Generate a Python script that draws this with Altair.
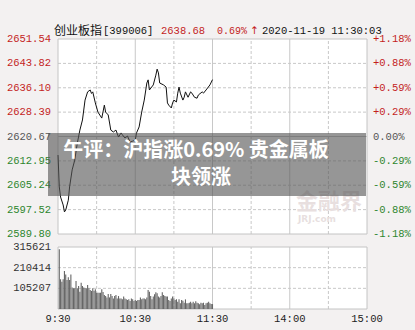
import altair as alt
import pandas as pd

# ---------------- data ----------------
price_minutes = [0, 1, 2, 4, 5, 6, 8, 9, 11, 13, 15, 17, 19, 21, 23, 25, 26, 27, 29, 31,
                 34, 36, 37, 39, 41, 43, 45, 47, 49, 50, 52, 54, 56, 58, 60, 61, 63, 65, 67, 69,
                 70, 71, 74, 76, 77, 78, 79, 82, 84, 85, 86, 88, 89, 90, 92, 93, 94, 95, 97, 98,
                 99, 101, 103, 104, 106, 108, 109, 112, 113, 115, 118, 120]
price_values = [2614.8, 2604.7, 2601.5, 2599.0, 2596.8, 2597.4, 2600.5, 2604.7, 2610.1, 2613.2,
                2618.6, 2622.7, 2625.9, 2632.2, 2634.8, 2635.4, 2634.3, 2634.8, 2631.3, 2628.4,
                2626.5, 2630.6, 2628.4, 2627.5, 2622.7, 2622.1, 2622.7, 2620.5, 2621.8, 2621.2,
                2620.2, 2620.8, 2618.9, 2619.2, 2619.6, 2621.8, 2623.7, 2628.4, 2632.2, 2637.6,
                2638.6, 2635.4, 2637.0, 2640.1, 2642.0, 2640.8, 2637.6, 2637.0, 2636.3, 2631.3,
                2630.6, 2629.7, 2631.3, 2632.2, 2631.6, 2634.4, 2636.3, 2634.4, 2632.2, 2633.1,
                2634.8, 2633.1, 2634.8, 2634.4, 2633.1, 2632.8, 2633.8, 2634.8, 2634.4, 2635.4,
                2637.0, 2638.68]

volumes = [303800, 151000, 139000, 151000, 193000, 176000, 148000, 161000, 148000, 176000,
           110000, 105000, 105000, 143000, 105000, 117000, 88000, 134000, 117000, 109000,
           105000, 105000, 122000, 105000, 97000, 92000, 105000, 93000, 100000, 83000,
           83000, 83000, 83000, 100000, 87000, 71000, 66000, 59000, 76000, 59000,
           76000, 66000, 54000, 66000, 71000, 54000, 66000, 54000, 54000, 49000,
           63000, 54000, 49000, 46000, 49000, 41000, 54000, 49000, 41000, 46000,
           41000, 46000, 46000, 59000, 49000, 54000, 54000, 49000, 58000, 97000,
           88000, 66000, 49000, 63000, 75000, 85000, 80000, 63000, 59000, 66000,
           85000, 71000, 66000, 63000, 63000, 46000, 41000, 54000, 63000, 54000,
           46000, 49000, 37000, 49000, 29000, 46000, 42000, 32000, 49000, 29000,
           29000, 32000, 37000, 29000, 37000, 29000, 39000, 32000, 29000, 24000,
           32000, 29000, 32000, 20000, 29000, 32000, 37000, 29000, 25000, 25000]
vol_minutes = list(range(1, len(volumes) + 1))

price_levels = [2651.54, 2643.82, 2636.10, 2628.39, 2620.67, 2612.95, 2605.24, 2597.52, 2589.80]
price_labels = ["2651.54", "2643.82", "2636.10", "2628.39", "2620.67", "2612.95", "2605.24", "2597.52", "2589.80"]
pct_labels = ["+1.18%", "+0.88%", "+0.59%", "+0.29%", "0.00%", "-0.29%", "-0.59%", "-0.88%", "-1.18%"]
level_colors = ["#c41e1e"] * 4 + ["#555555"] + ["#2e862e"] * 4

vol_levels = [315621, 210414, 105207]
vol_labels = ["315621", "210414", "105207"]

time_ticks = [0, 60, 120, 180, 240]
time_labels = ["9:30", "10:30", "11:30", "14:00", "15:00"]

grid_dashed_min = [30, 90, 150, 210]
grid_solid_min = [60, 120, 180]

P_MIN, P_MAX = 2589.80, 2651.54
V_MAX = 315621

# ---------------- scales ----------------
XS = alt.Scale(domain=[0, 240], range=[53, 372], nice=False, zero=False)
PS = alt.Scale(domain=[P_MIN, P_MAX], range=[234, 39], nice=False, zero=False)
VS = alt.Scale(domain=[0, V_MAX], range=[309, 247], nice=False, zero=False)

MONO = "Liberation Mono"
CJK = "Noto Sans CJK SC"
GRID = "#c8c8c8"
BORDER = "#c4c4c4"

line_df = pd.DataFrame({"m": price_minutes, "p": price_values})
vol_df = pd.DataFrame({"m": vol_minutes, "v": volumes})
lvl_df = pd.DataFrame({"p": price_levels, "lab": price_labels, "pct": pct_labels, "c": level_colors})
vlvl_df = pd.DataFrame({"v": vol_levels, "lab": vol_labels})
time_df = pd.DataFrame({"m": time_ticks, "lab": time_labels})
panel_df = pd.DataFrame({"x0": [0], "x1": [240], "p0": [P_MIN], "p1": [P_MAX], "v0": [0], "v1": [V_MAX]})
gd_df = pd.DataFrame({"m": grid_dashed_min, "p0": P_MIN, "p1": P_MAX, "v0": 0, "v1": V_MAX})
gs_df = pd.DataFrame({"m": grid_solid_min, "p0": P_MIN, "p1": P_MAX, "v0": 0, "v1": V_MAX})
hgrid_df = pd.DataFrame({"p": [l for l in price_levels[1:-1] if l != 2620.67], "x0": 0, "x1": 240})
hmid_df = pd.DataFrame({"p": [2620.67], "x0": [0], "x1": [240]})
vgrid_df = pd.DataFrame({"v": vol_levels[1:], "x0": 0, "x1": 240})

X = lambda f: alt.X(f, scale=XS, axis=None)
YP = lambda f: alt.Y(f, scale=PS, axis=None)
YV = lambda f: alt.Y(f, scale=VS, axis=None)

# ---------- price panel group ----------
price_layers = [
    alt.Chart(panel_df).mark_rect(fill="white").encode(x=X("x0:Q"), x2="x1:Q", y=YP("p0:Q"), y2="p1:Q"),
    alt.Chart(gd_df).mark_rule(color=GRID, strokeDash=[3, 2], strokeWidth=1).encode(
        x=X("m:Q"), y=YP("p0:Q"), y2="p1:Q"),
    alt.Chart(gs_df).mark_rule(color=GRID, strokeWidth=1).encode(x=X("m:Q"), y=YP("p0:Q"), y2="p1:Q"),
    alt.Chart(hgrid_df).mark_rule(color=GRID, strokeDash=[3, 2], strokeWidth=1).encode(
        y=YP("p:Q"), x=X("x0:Q"), x2="x1:Q"),
    alt.Chart(hmid_df).mark_rule(color="#bdbdbd", strokeWidth=1).encode(y=YP("p:Q"), x=X("x0:Q"), x2="x1:Q"),
    alt.Chart(panel_df).mark_rect(fill="transparent", stroke=BORDER, strokeWidth=1).encode(
        x=X("x0:Q"), x2="x1:Q", y=YP("p0:Q"), y2="p1:Q"),
    alt.Chart(line_df).mark_line(color="#111111", strokeWidth=1).encode(x=X("m:Q"), y=YP("p:Q")),
    alt.Chart(lvl_df).mark_text(align="right", baseline="middle", font=MONO, fontSize=10.5).encode(
        y=YP("p:Q"), x=alt.value(51), text="lab:N", color=alt.Color("c:N", scale=None)),
    alt.Chart(lvl_df).mark_text(align="left", baseline="middle", font=MONO, fontSize=10.5).encode(
        y=YP("p:Q"), x=alt.value(373), text="pct:N", color=alt.Color("c:N", scale=None)),
]


def htext(txt, x, y, color, font, size, weight="normal", align="left"):
    return alt.Chart(pd.DataFrame({"t": [txt]})).mark_text(
        align=align, baseline="middle", font=font, fontSize=size, color=color, fontWeight=weight).encode(
        x=alt.value(x), y=alt.value(y), text="t:N")


# header
price_layers += [
    htext("创业板指", 54, 31, "#111111", CJK, 12),
    htext("[399006]", 103, 31, "#111111", MONO, 10.5),
    htext("2638.68", 161, 31, "#c41e1e", MONO, 10.5),
    htext("0.69%", 217, 31, "#c41e1e", MONO, 10),
    htext("↑", 250, 31, "#c41e1e", "DejaVu Sans", 10.5),
    htext("2020-11-19 11:30:03", 262, 31, "#111111", MONO, 10.5),
]

# ---------- volume panel group ----------
vol_layers = [
    alt.Chart(panel_df).mark_rect(fill="white").encode(x=X("x0:Q"), x2="x1:Q", y=YV("v0:Q"), y2="v1:Q"),
    alt.Chart(gd_df).mark_rule(color=GRID, strokeDash=[3, 2], strokeWidth=1).encode(
        x=X("m:Q"), y=YV("v0:Q"), y2="v1:Q"),
    alt.Chart(gs_df).mark_rule(color=GRID, strokeWidth=1).encode(x=X("m:Q"), y=YV("v0:Q"), y2="v1:Q"),
    alt.Chart(vgrid_df).mark_rule(color=GRID, strokeDash=[3, 2], strokeWidth=1).encode(
        y=YV("v:Q"), x=X("x0:Q"), x2="x1:Q"),
    alt.Chart(panel_df).mark_rect(fill="transparent", stroke=BORDER, strokeWidth=1).encode(
        x=X("x0:Q"), x2="x1:Q", y=YV("v0:Q"), y2="v1:Q"),
    alt.Chart(vol_df).mark_bar(size=1.1, color="#666666").encode(x=X("m:Q"), y=YV("v:Q")),
    alt.Chart(vlvl_df).mark_text(align="right", baseline="middle", font=MONO, fontSize=10.5,
                                 color="#333333").encode(y=YV("v:Q"), x=alt.value(51), text="lab:N"),
    alt.Chart(time_df).mark_text(align="center", baseline="middle", font=MONO, fontSize=10.5,
                                 color="#222222").encode(x=X("m:Q"), y=alt.value(319), text="lab:N"),
    # watermark
    htext("金融界", 296, 202, "#e8dfdf", CJK, 22, "bold"),
    htext("JRJ.com", 298, 219, "#e8dfdf", "DejaVu Sans", 9, "bold"),
    # caption overlay
    alt.Chart(pd.DataFrame({"a": [0]})).mark_rect(fill="#555555", opacity=0.62).encode(
        x=alt.value(48), x2=alt.value(366), y=alt.value(133), y2=alt.value(196)),
    htext("午评：沪指涨0.69% 贵金属板", 196, 151, "white", CJK, 20, "bold", "center"),
    htext("块领涨", 201, 178, "white", CJK, 20, "bold", "center"),
]

price_group = alt.layer(*price_layers)
vol_group = alt.layer(*vol_layers)

chart = alt.layer(price_group, vol_group).resolve_scale(y="independent").properties(
    width=415, height=330, padding=0, autosize="none", background="#f3f1f1"
).configure_view(stroke=None)

chart.save("out.html", embed_options={"renderer": "svg", "actions": False})
